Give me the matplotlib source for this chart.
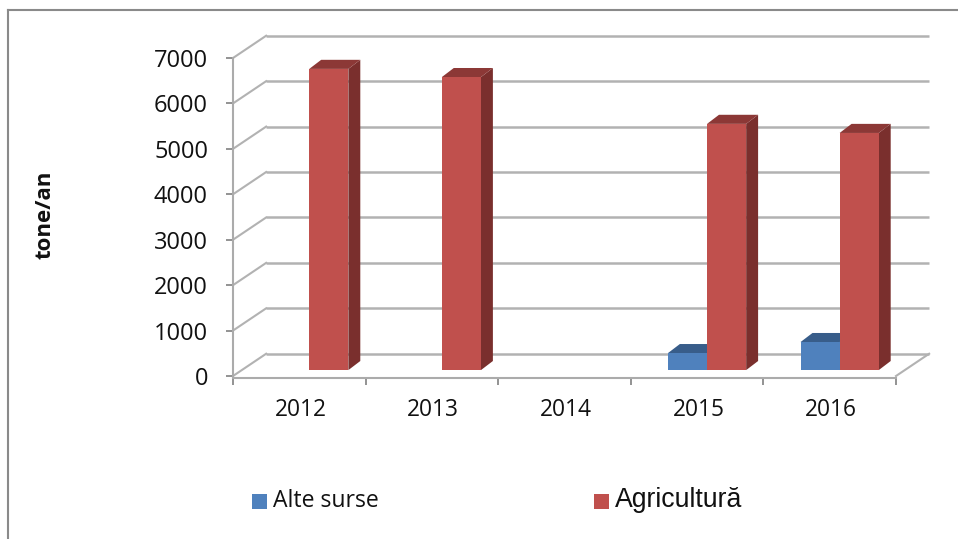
import matplotlib
matplotlib.use("Agg")
import matplotlib.pyplot as plt
from matplotlib.patches import Polygon, Rectangle
from matplotlib.lines import Line2D

years = ["2012", "2013", "2014", "2015", "2016"]
alte_surse = [0, 0, 0, 374, 617]
agricultura = [6630, 6450, 0, 5420, 5220]
y_ticks = [0, 1000, 2000, 3000, 4000, 5000, 6000, 7000]

W, H = 958, 539
GRID = "#B2B2B2"
AXC = "#ABABAB"
TICKC = "#808080"
fig = plt.figure(figsize=(W / 100, H / 100), dpi=100, facecolor="white")

def fx(p): return p / W
def fy(p): return 1 - p / H

ax = fig.add_axes([fx(233), fy(376), (896 - 233) / W, (376 - 58) / H])
ax.set_xlim(-0.5, 4.5)
ax.set_ylim(0, 7000)
ax.patch.set_visible(False)

# depth of the 3D box, and of the bars, in data units
BOX_DX, BOX_DY = 0.25, 490
BAR_SHIFT_X, BAR_SHIFT_Y = 0.075, 130
SIDE_DX, SIDE_DY = 0.09, 200
BAR_W = 0.295

# walls and floor
for v in y_ticks:
    ax.plot([-0.5 + BOX_DX, 4.5 + BOX_DX], [v + BOX_DY] * 2, color=GRID, lw=1.8,
            clip_on=False, zorder=1, solid_capstyle="butt")
    ax.plot([-0.5, -0.5 + BOX_DX], [v, v + BOX_DY], color=GRID, lw=1.5,
            clip_on=False, zorder=1)
ax.plot([4.5, 4.5 + BOX_DX], [0, BOX_DY], color=GRID, lw=1.5, clip_on=False, zorder=1)

def bar3d(xc, value, front, top, side):
    if value <= 0:
        return
    x0 = xc + BAR_SHIFT_X
    x1 = x0 + BAR_W
    y0 = BAR_SHIFT_Y
    y1 = y0 + value
    ax.add_patch(Polygon([(x1, y0), (x1 + SIDE_DX, y0 + SIDE_DY),
                          (x1 + SIDE_DX, y1 + SIDE_DY), (x1, y1)],
                         fc=side, ec="none", clip_on=False, zorder=3))
    ax.add_patch(Polygon([(x0, y1), (x1, y1), (x1 + SIDE_DX, y1 + SIDE_DY),
                          (x0 + SIDE_DX, y1 + SIDE_DY)],
                         fc=top, ec="none", clip_on=False, zorder=3))
    ax.bar(x0, value, BAR_W, bottom=y0, align="edge", color=front, clip_on=False, zorder=4)

for i in range(len(years)):
    bar3d(i - BAR_W, alte_surse[i], "#4F81BD", "#385D8A", "#2F4F75")
    bar3d(i, agricultura[i], "#C0504D", "#8C3836", "#7A2F2D")

# axes
for s in ("top", "right"):
    ax.spines[s].set_visible(False)
for s in ("left", "bottom"):
    ax.spines[s].set_color(AXC)
    ax.spines[s].set_linewidth(1.5)
ax.spines["bottom"].set_position(("outward", 1.5))
ax.set_yticks(y_ticks)
ax.set_xticks([i - 0.5 for i in range(len(years) + 1)], minor=False)
ax.set_xticklabels([])
ax.tick_params(axis="both", color=TICKC, width=1.2, length=5, direction="out", labelsize=17)
ax.tick_params(axis="y", pad=13)
for t in ax.get_yticklabels():
    t.set_family("Open Sans")
    t.set_color("#111111")
for i, y in enumerate(years):
    ax.annotate(y, (i, 0), xytext=(1, -24.5), textcoords="offset points", ha="center", va="center",
                family="Open Sans", fontsize=16.4, color="#111111", annotation_clip=False)

fig.text(fx(45), fy(215), "tone/an", rotation=90, ha="center", va="center",
         family="Open Sans", fontweight="bold", fontsize=16, color="#111111")

# legend
fig.add_artist(Rectangle((fx(252), fy(509)), 15 / W, 15 / H, transform=fig.transFigure, fc="#4F81BD", ec="none"))
fig.add_artist(Rectangle((fx(594), fy(509)), 15 / W, 15 / H, transform=fig.transFigure, fc="#C0504D", ec="none"))
fig.text(fx(273), fy(501), "Alte surse", family="Open Sans", fontsize=16.6, va="center", ha="left", color="#111111")
fig.text(fx(615), fy(500), "Agricultură", family="Liberation Sans", fontsize=19.2, va="center", ha="left", color="#111111")

# outer frame (top and left only)
fig.add_artist(Line2D([fx(8), 1], [fy(10), fy(10)], transform=fig.transFigure, color="#8A8A8A", lw=1.5))
fig.add_artist(Line2D([fx(8), fx(8)], [fy(10), 0], transform=fig.transFigure, color="#8A8A8A", lw=1.5))

fig.savefig("out.png", dpi=100)
